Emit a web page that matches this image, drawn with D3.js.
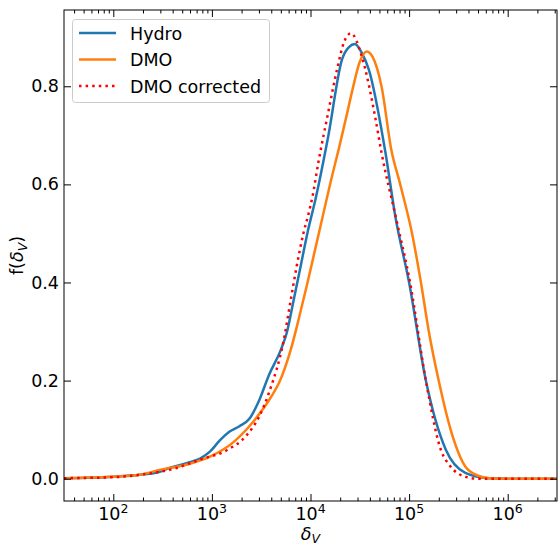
<!DOCTYPE html>
<html><head><meta charset="utf-8">
<script src="https://cdn.jsdelivr.net/npm/d3@7"></script>
<style>
body{margin:0;background:#fff;}
text{font-family:"DejaVu Sans",sans-serif;}
</style></head>
<body><svg id="chart" width="558" height="545"></svg>
<script>
// log10(delta_V) and f values
const hydroLog = [1.5,2.0,2.27,2.47,2.57,2.75,2.88,2.98,3.08,3.18,3.28,3.38,3.48,3.58,3.70,3.76,3.83,3.90,3.97,4.05,4.18,4.32,4.39,4.45,4.52,4.59,4.76,4.86,5.0,5.17,5.37,5.57,5.81,6.0,6.5];
const hydroVal = [0.001,0.004,0.008,0.014,0.022,0.032,0.041,0.055,0.078,0.096,0.107,0.122,0.160,0.212,0.263,0.298,0.365,0.433,0.502,0.569,0.698,0.855,0.880,0.886,0.868,0.835,0.665,0.535,0.400,0.200,0.060,0.012,0.001,0,0];
const dmoLog = [1.5,1.97,2.27,2.47,2.75,2.98,3.21,3.41,3.61,3.68,3.80,3.88,3.97,4.05,4.13,4.21,4.29,4.36,4.42,4.50,4.57,4.63,4.72,4.82,4.91,5.03,5.12,5.20,5.30,5.43,5.57,5.70,5.81,6.0,6.5];
const dmoVal = [0.001,0.004,0.008,0.018,0.029,0.045,0.073,0.114,0.170,0.195,0.263,0.325,0.400,0.470,0.540,0.610,0.675,0.735,0.788,0.850,0.871,0.860,0.800,0.670,0.600,0.500,0.400,0.300,0.200,0.094,0.025,0.006,0.001,0,0];
const corrLog = [1.5,2.0,2.27,2.61,2.88,3.15,3.35,3.48,3.58,3.73,3.80,3.86,3.93,3.98,4.02,4.08,4.18,4.27,4.34,4.41,4.52,4.66,4.72,4.87,5.01,5.17,5.32,5.42,5.57,5.70,6.5];
const corrVal = [0.001,0.003,0.008,0.020,0.039,0.058,0.088,0.127,0.176,0.284,0.365,0.433,0.502,0.540,0.575,0.645,0.747,0.835,0.890,0.908,0.861,0.733,0.665,0.529,0.400,0.200,0.060,0.025,0.004,0,0];
const yTicks = [0.0,0.2,0.4,0.6,0.8];
const xTicks = [1e2,1e3,1e4,1e5,1e6];
const seriesNames = ["Hydro","DMO","DMO corrected"];

const svg = d3.select("#chart");
const L = 64, R = 557, T = 10, B = 501;
const FS = 17.5, SUB = 12.5;
const x = d3.scaleLog().domain([Math.pow(10,1.5), Math.pow(10,6.5)]).range([L,R]);
const y = d3.scaleLinear().domain([-0.0455,0.9555]).range([B,T]);

svg.append("defs").append("clipPath").attr("id","clip")
  .append("rect").attr("x",L).attr("y",T).attr("width",R-L).attr("height",B-T);

const line = d3.line().x(d=>x(Math.pow(10,d[0]))).y(d=>y(d[1])).curve(d3.curveMonotoneX);
const g = svg.append("g").attr("clip-path","url(#clip)");
const series = [
  {log:hydroLog,val:hydroVal,color:"#1f77b4",dash:null},
  {log:dmoLog,val:dmoVal,color:"#ff7f0e",dash:null},
  {log:corrLog,val:corrVal,color:"#ff0000",dash:"2.5,4.1"}
];
series.forEach(s=>{
  const pts = s.log.map((l,i)=>[l,s.val[i]]);
  g.append("path").datum(pts).attr("d",line).attr("fill","none")
    .attr("stroke",s.color).attr("stroke-width",2.5)
    .attr("stroke-dasharray",s.dash).attr("stroke-linecap","butt");
});

// axes: ticks inward
const minorTicks = [];
for(let e=1;e<=6;e++) for(let m=2;m<=9;m++){const v=m*Math.pow(10,e); if(v>=x.domain()[0]&&v<=x.domain()[1]) minorTicks.push(v);}
function xAxis(pos, labels){
  const ax = (pos==="bottom"? d3.axisBottom(x): d3.axisTop(x)).tickValues(xTicks).tickSizeInner(-7).tickSizeOuter(0).tickFormat("");
  const gg = svg.append("g").attr("transform",`translate(0,${pos==="bottom"?B:T})`).call(ax);
  gg.select(".domain").remove();
  const axm = (pos==="bottom"? d3.axisBottom(x): d3.axisTop(x)).tickValues(minorTicks).tickSizeInner(-3.5).tickSizeOuter(0).tickFormat("");
  const gm = svg.append("g").attr("transform",`translate(0,${pos==="bottom"?B:T})`).call(axm);
  gm.select(".domain").remove();
  svg.selectAll(".tick line").attr("stroke","#000").attr("stroke-width",1);
  if(labels){
    xTicks.forEach(v=>{
      const t = svg.append("text").attr("x",x(v)).attr("y",B+19).attr("text-anchor","middle")
        .attr("font-size",FS).attr("fill","#000");
      t.append("tspan").text("10");
      t.append("tspan").attr("dy",-7).attr("font-size",SUB).text(String(Math.round(Math.log10(v))));
    });
  }
}
xAxis("bottom",true); xAxis("top",false);
function yAxis(pos, labels){
  const ax = (pos==="left"? d3.axisLeft(y): d3.axisRight(y)).tickValues(yTicks).tickSizeInner(-7).tickSizeOuter(0)
    .tickFormat(labels? d3.format(".1f"):"").tickPadding(labels?5:0);
  const gg = svg.append("g").attr("transform",`translate(${pos==="left"?L:R},0)`).call(ax);
  gg.select(".domain").remove();
  gg.selectAll(".tick line").attr("stroke","#000");
  gg.selectAll("text").attr("font-size",FS).attr("fill","#000").attr("font-family","DejaVu Sans");
}
yAxis("left",true); yAxis("right",false);

svg.append("rect").attr("x",L).attr("y",T).attr("width",R-L).attr("height",B-T)
  .attr("fill","none").attr("stroke","#000").attr("stroke-width",1);

// axis labels
const xl = svg.append("text").attr("x",(L+R)/2).attr("y",540).attr("text-anchor","middle").attr("font-size",FS);
xl.append("tspan").attr("font-style","italic").text("δ");
xl.append("tspan").attr("font-style","italic").attr("dy",3).attr("font-size",SUB).text("V");
const yl = svg.append("text").attr("transform",`translate(23,${(T+B)/2}) rotate(-90)`).attr("text-anchor","middle").attr("font-size",FS);
yl.append("tspan").text("f(");
yl.append("tspan").attr("font-style","italic").text("δ");
yl.append("tspan").attr("font-style","italic").attr("dy",4).attr("font-size",SUB).text("V");
yl.append("tspan").attr("dy",-4).text(")");

// legend
const lg = svg.append("g");
lg.append("rect").attr("x",72.5).attr("y",19.5).attr("width",197).attr("height",83).attr("rx",3)
  .attr("fill","#fff").attr("fill-opacity",0.8).attr("stroke","#cccccc").attr("stroke-width",1);
series.forEach((s,i)=>{
  const yy = 33 + i*26.5;
  lg.append("line").attr("x1",79).attr("x2",116).attr("y1",yy).attr("y2",yy)
    .attr("stroke",s.color).attr("stroke-width",2.5).attr("stroke-dasharray",s.dash);
  lg.append("text").attr("x",130).attr("y",yy+6.5).attr("font-size",FS).text(seriesNames[i]);
});
</script></body></html>
